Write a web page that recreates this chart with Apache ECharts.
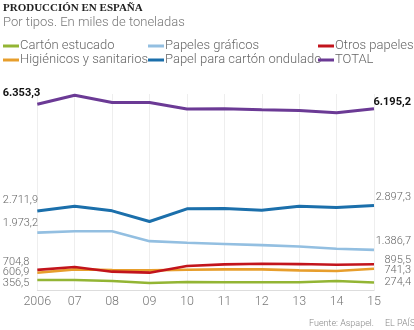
<!DOCTYPE html>
<html>
<head>
<meta charset="utf-8">
<script src="https://cdn.jsdelivr.net/npm/echarts@6/dist/echarts.min.js"></script>
<style>
  html, body { margin: 0; padding: 0; background: #fff; }
  #chart { width: 414px; height: 330px; }
</style>
</head>
<body>
<div id="chart"></div>
<script>
// Paper production in Spain by type, thousands of tonnes
const years = ['2006', '07', '08', '09', '10', '11', '12', '13', '14', '15'];
const cartonEstucado = [356.5, 356, 323, 255, 289, 279, 279, 279, 323, 274.4];
const higienicos = [606.9, 721, 697, 687, 710, 721, 721, 687, 663, 741.3];
const papelesGraficos = [1973.2, 2022, 2022, 1683, 1628, 1587, 1547, 1502, 1424, 1386.7];
const papelOndulado = [2711.9, 2872, 2716, 2352, 2784, 2794, 2736, 2872, 2828, 2897.3];
const otrosPapeles = [704.8, 799, 642, 608, 833, 891, 914, 901, 880, 895.5];
const total = [6353.3, 6659, 6407, 6407, 6186, 6193, 6159, 6135, 6057, 6195.2];

// Spanish number format: 6.353,3
function fmt(v) {
  const parts = v.toFixed(1).split('.');
  const intPart = parts[0].replace(/\B(?=(\d{3})+(?!\d))/g, '.');
  return intPart + ',' + parts[1];
}

const baseLabel = {
  show: true,
  position: 'inside',
  verticalAlign: 'middle',
  fontFamily: 'Roboto',
  fontSize: 11,
  fontWeight: 300,
  color: '#666'
};

// series definitions: name, values, colour, end-label vertical nudges, emphasis
const seriesDefs = [
  { name: 'Cartón estucado', data: cartonEstucado, color: '#93b534', dyL: 3.5, dyR: 0, bold: false },
  { name: 'Higiénicos y sanitarios', data: higienicos, color: '#e79e2c', dyL: 0, dyR: 1.5, bold: false },
  { name: 'Papeles gráficos', data: papelesGraficos, color: '#93bfe1', dyL: -9, dyR: -9, bold: false },
  { name: 'Papel para cartón ondulado', data: papelOndulado, color: '#1b6fab', dyL: -10.5, dyR: -8.5, bold: false },
  { name: 'Otros papeles', data: otrosPapeles, color: '#c2141c', dyL: -7.5, dyR: -4, bold: false },
  { name: 'TOTAL', data: total, color: '#6b3a95', dyL: -11, dyR: -6.5, bold: true }
];

function buildData(def) {
  const last = def.data.length - 1;
  return def.data.map(function (v, i) {
    if (i !== 0 && i !== last) return v;
    const lab = Object.assign({}, baseLabel, {
      formatter: fmt(v),
      align: i === 0 ? 'left' : 'right',
      offset: i === 0 ? [-34.5, def.dyL] : [37, def.dyR]
    });
    if (def.bold) {
      lab.fontWeight = 'bold';
      lab.color = '#111';
    }
    return { value: v, label: lab };
  });
}

const series = seriesDefs.map(function (def) {
  return {
    name: def.name,
    type: 'line',
    data: buildData(def),
    color: def.color,
    showSymbol: true,
    symbol: 'circle',
    symbolSize: 0,
    clip: false,
    lineStyle: { width: def.name === 'TOTAL' || def.name === 'Papel para cartón ondulado' ? 3 : 2.6, color: def.color },
    itemStyle: { color: def.color },
    emphasis: { disabled: true },
    animation: false
  };
});

const legendCommon = {
  orient: 'vertical',
  top: 39,
  padding: 0,
  itemGap: 0,
  itemWidth: 16,
  itemHeight: 3,
  icon: 'rect',
  selectedMode: false,
  textStyle: {
    fontFamily: 'Roboto',
    fontWeight: 300,
    fontSize: 13,
    lineHeight: 14,
    color: '#666',
    padding: [0, 0, 0, -4]
  }
};

const chart = echarts.init(document.getElementById('chart'), null, { renderer: 'canvas' });
chart.setOption({
  animation: false,
  backgroundColor: '#fff',
  title: [
    {
      text: 'PRODUCCIÓN EN ESPAÑA',
      left: 3,
      top: 3,
      padding: 0,
      textStyle: { fontFamily: 'Liberation Serif', fontWeight: 'bold', fontSize: 11, color: '#222' }
    },
    {
      text: 'Por tipos. En miles de toneladas',
      left: 3,
      top: 16,
      padding: 0,
      textStyle: { fontFamily: 'Roboto', fontWeight: 300, fontSize: 13, color: '#777' }
    },
    {
      text: 'Fuente: Aspapel.',
      left: 309,
      top: 319,
      padding: 0,
      textStyle: { fontFamily: 'Roboto', fontWeight: 300, fontSize: 9, color: '#888' }
    },
    {
      text: 'EL PAÍS',
      left: 385,
      top: 319,
      padding: 0,
      textStyle: { fontFamily: 'Roboto', fontWeight: 300, fontSize: 9, color: '#888' }
    }
  ],
  legend: [
    Object.assign({}, legendCommon, { left: 3, data: ['Cartón estucado', 'Higiénicos y sanitarios'] }),
    Object.assign({}, legendCommon, { left: 148, data: ['Papeles gráficos', 'Papel para cartón ondulado'] }),
    Object.assign({}, legendCommon, { left: 318, data: ['Otros papeles', 'TOTAL'] })
  ],
  grid: { left: 37.3, right: 40, top: 94, bottom: 39.5 },
  xAxis: {
    type: 'category',
    data: years,
    boundaryGap: false,
    axisLine: { show: true, lineStyle: { color: '#ddd', width: 1 } },
    axisTick: { show: false },
    axisLabel: { margin: 5, fontFamily: 'Roboto', fontWeight: 300, fontSize: 12.5, color: '#777' },
    splitLine: { show: true, lineStyle: { color: '#eee', width: 1 } }
  },
  yAxis: {
    type: 'value',
    min: 0,
    max: 6700,
    show: false,
    splitLine: { show: false }
  },
  series: series
});
</script>
</body>
</html>
